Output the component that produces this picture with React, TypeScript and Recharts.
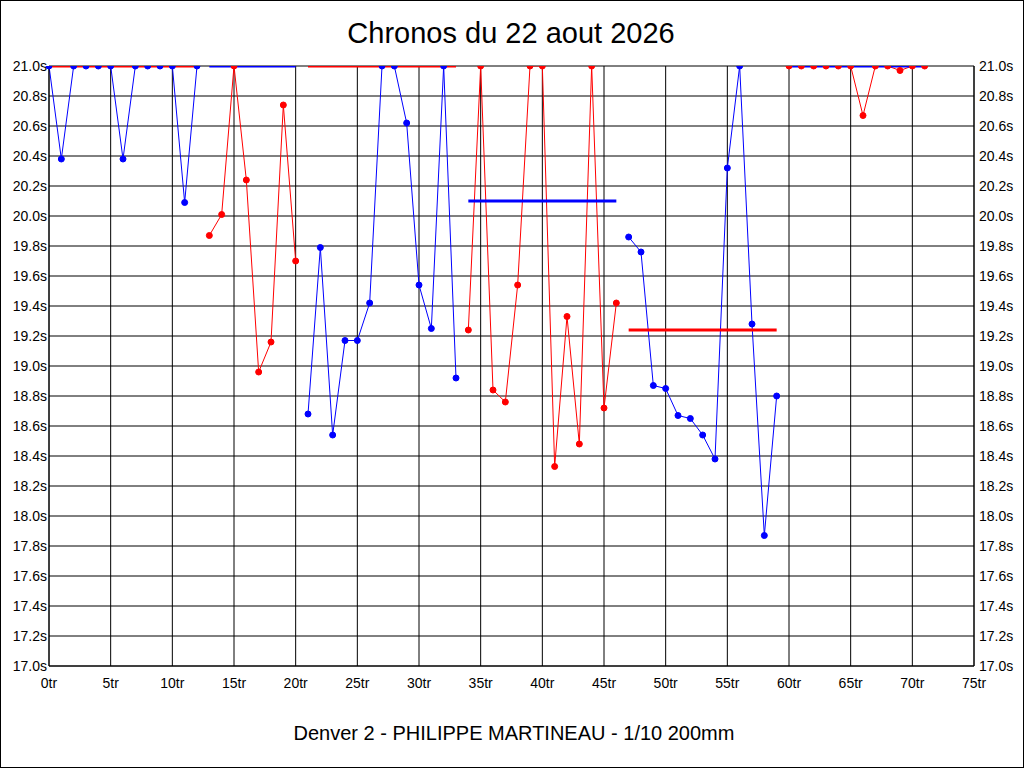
import { LineChart, Line, XAxis, YAxis, CartesianGrid } from "recharts"

// lap times per stint (s); values above 21.0s are shown clipped at 21.0
const stintStarts = [0, 13, 21, 34, 47, 60]
const stint1 = [21.0, 20.38, 21.0, 21.0, 21.0, 21.0, 20.38, 21.0, 21.0, 21.0, 21.0, 20.09, 21.0]
const stint2 = [19.87, 20.01, 21.0, 20.24, 18.96, 19.16, 20.74, 19.7]
const stint3 = [18.68, 19.79, 18.54, 19.17, 19.17, 19.42, 21.0, 21.0, 20.62, 19.54, 19.25, 21.0, 18.92]
const stint4 = [19.24, 21.0, 18.84, 18.76, 19.54, 21.0, 21.0, 18.33, 19.33, 18.48, 21.0, 18.72, 19.42]
const stint5 = [19.86, 19.76, 18.87, 18.85, 18.67, 18.65, 18.54, 18.38, 20.32, 21.0, 19.28, 17.87, 18.8]
const stint6 = [21.0, 21.0, 21.0, 21.0, 21.0, 21.0, 20.67, 21.0, 21.0, 20.97, 21.0, 21.0]
const stintAverages = [21.0, 21.0, 21.0, 20.1, 19.24, 21.0]

const xTicks = [0, 5, 10, 15, 20, 25, 30, 35, 40, 45, 50, 55, 60, 65, 70, 75]
const yTicks = [
  17.0, 17.2, 17.4, 17.6, 17.8, 18.0, 18.2, 18.4, 18.6, 18.8, 19.0,
  19.2, 19.4, 19.6, 19.8, 20.0, 20.2, 20.4, 20.6, 20.8, 21.0,
]

const stints = [stint1, stint2, stint3, stint4, stint5, stint6]

const BLUE = "#0000ff"
const RED = "#ff0000"
const pointColor = (i: number) => (i % 2 === 0 ? BLUE : RED)
const avgColor = (i: number) => (i % 2 === 0 ? RED : BLUE)

// one row per lap, one key per stint so the stints stay unconnected
const rows: Record<string, number>[] = []
stints.forEach((values, i) => {
  values.forEach((v, j) => {
    const row: Record<string, number> = { lap: stintStarts[i] + j }
    row[`s${i}`] = v
    row[`a${i}`] = stintAverages[i]
    rows.push(row)
  })
})

const font = "'Liberation Sans', Arial, sans-serif"
const tickStyle = { fill: "#000", fontSize: 14, fontFamily: font }

export default function App() {
  return (
    <div style={{ position: "relative", width: 1024, height: 768, background: "#fff" }}>
      <style>{"body{margin:0}"}</style>
      <LineChart width={1024} height={768} data={rows} margin={{ top: 66, right: 5, bottom: 72, left: 4 }}>
        <CartesianGrid yAxisId="left" stroke="#000" strokeOpacity={1} />
        <XAxis
          dataKey="lap"
          type="number"
          domain={[0, 75]}
          ticks={xTicks}
          interval={0}
          tickFormatter={(v) => `${v}tr`}
          axisLine={{ stroke: "#000" }}
          tickLine={false}
          tickSize={0}
          tickMargin={12}
          height={30}
          tick={tickStyle}
        />
        <YAxis
          yAxisId="left"
          domain={[17, 21]}
          ticks={yTicks}
          interval={0}
          tickFormatter={(v) => `${Number(v).toFixed(1)}s`}
          axisLine={{ stroke: "#000" }}
          tickLine={false}
          tickSize={0}
          tickMargin={2}
          width={45}
          tick={tickStyle}
          allowDataOverflow
        />
        <YAxis
          yAxisId="right"
          orientation="right"
          domain={[17, 21]}
          ticks={yTicks}
          interval={0}
          tickFormatter={(v) => `${Number(v).toFixed(1)}s`}
          axisLine={{ stroke: "#000" }}
          tickLine={false}
          tickSize={0}
          tickMargin={5}
          width={45}
          tick={{ ...tickStyle, textAnchor: "start" }}
          allowDataOverflow
        />
        {stints.map((_, i) => (
          <Line
            key={`line${i}`}
            yAxisId="left"
            dataKey={`s${i}`}
            stroke={pointColor(i)}
            strokeWidth={1}
            dot={false}
            activeDot={false}
            type="linear"
            isAnimationActive={false}
          />
        ))}
        {stints.map((_, i) => (
          <Line
            key={`avg${i}`}
            yAxisId="left"
            dataKey={`a${i}`}
            stroke={avgColor(i)}
            strokeWidth={3}
            dot={false}
            activeDot={false}
            type="linear"
            isAnimationActive={false}
          />
        ))}
        {stints.map((_, i) => (
          <Line
            key={`dots${i}`}
            yAxisId="left"
            dataKey={`s${i}`}
            stroke="none"
            dot={{ r: 3, fill: pointColor(i), stroke: pointColor(i), strokeWidth: 1 }}
            activeDot={false}
            isAnimationActive={false}
          />
        ))}
      </LineChart>
      <svg width={1024} height={768} style={{ position: "absolute", left: 0, top: 0, pointerEvents: "none" }}>
        <rect x={0.5} y={0.5} width={1023} height={767} fill="none" stroke="#000" />
        <text x={511} y={43} textAnchor="middle" fontSize={29} fontFamily={font} fill="#000">
          Chronos du 22 aout 2026
        </text>
        <text x={514} y={740} textAnchor="middle" fontSize={20} fontFamily={font} fill="#000">
          Denver 2 - PHILIPPE MARTINEAU - 1/10 200mm
        </text>
      </svg>
    </div>
  )
}
